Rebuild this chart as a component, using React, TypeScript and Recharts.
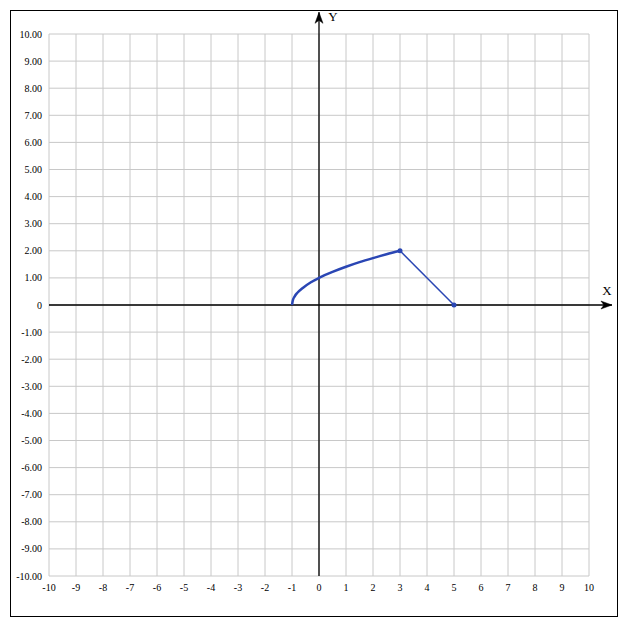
import React from "react";
import { LineChart, Line, XAxis, YAxis, CartesianGrid, ReferenceLine } from "recharts";

const xTicks = [-10, -9, -8, -7, -6, -5, -4, -3, -2, -1, 0, 1, 2, 3, 4, 5, 6, 7, 8, 9, 10];
const yTicks = [-10, -9, -8, -7, -6, -5, -4, -3, -2, -1, 0, 1, 2, 3, 4, 5, 6, 7, 8, 9, 10];

// curved part
const curveX = [-1, -0.97, -0.9, -0.8, -0.6, -0.3, 0, 0.5, 1, 1.5, 2, 2.5, 3];
const curveY = [0, 0.17, 0.32, 0.45, 0.63, 0.84, 1, 1.22, 1.41, 1.58, 1.73, 1.87, 2];
// straight part
const segX = [3, 5];
const segY = [2, 0];

const curveData = curveX.map((x, i) => ({ x, y: curveY[i] }));
const segData = segX.map((x, i) => ({ x, y: segY[i] }));

const BLUE = "#2a46b4";
const FONT = "'Liberation Serif', 'Times New Roman', serif";

const ArrowAxis = (label: string, dir: "up" | "right") => (props: any) => {
  const { x1, y1, x2, y2 } = props;
  let head = "";
  let tx = 0;
  let ty = 0;
  if (dir === "up") {
    head = `M${x2},${y2} L${x2 - 4},${y2 + 11} L${x2},${y2 + 8} L${x2 + 4},${y2 + 11} Z`;
    tx = x2 + 14;
    ty = y2 + 9;
  } else {
    head = `M${x2},${y2} L${x2 - 11},${y2 - 4} L${x2 - 8},${y2} L${x2 - 11},${y2 + 4} Z`;
    tx = x2 - 5;
    ty = y2 - 10;
  }
  return (
    <g>
      <line x1={x1} y1={y1} x2={x2} y2={y2} stroke="#000" strokeWidth={1.3} />
      <path d={head} fill="#000" stroke="#000" strokeWidth={0.5} />
      <text x={tx} y={ty} fontSize={13} fontFamily={FONT} fill="#000" textAnchor="middle">
        {label}
      </text>
    </g>
  );
};

const yFmt = (v: number) => (v === 0 ? "0" : v.toFixed(2));

const tickStyle = { fontSize: 10, fontFamily: FONT, fill: "#000" };

export default function App() {
  return (
    <div
      style={{
        position: "absolute",
        left: 0,
        top: 0,
        width: 627,
        height: 630,
        background: "#fff",
        fontFamily: FONT,
      }}
    >
      <div
        style={{
          position: "absolute",
          left: 10,
          top: 10,
          width: 608,
          height: 607,
          border: "1px solid #000",
          boxSizing: "border-box",
          pointerEvents: "none",
        }}
      />
      <LineChart
        width={627}
        height={630}
        margin={{ top: 34, right: 38, bottom: 34, left: 10 }}
        style={{ position: "absolute", left: 0, top: 0, fontFamily: FONT }}
      >
        <CartesianGrid stroke="#c8c8c8" strokeWidth={1} />
        <XAxis
          type="number"
          dataKey="x"
          domain={[-10, 10]}
          ticks={xTicks}
          interval={0}
          axisLine={false}
          tickLine={false}
          height={20}
          tick={tickStyle}
          style={{ fontFamily: FONT }}
          allowDataOverflow
        />
        <YAxis
          type="number"
          dataKey="y"
          domain={[-10, 10]}
          ticks={yTicks}
          interval={0}
          axisLine={false}
          tickLine={false}
          width={39}
          tickMargin={1}
          tickFormatter={yFmt}
          tick={tickStyle}
          style={{ fontFamily: FONT }}
          allowDataOverflow
        />
        <ReferenceLine
          segment={[{ x: -10, y: 0 }, { x: 10.85, y: 0 }]}
          ifOverflow="visible"
          shape={ArrowAxis("X", "right")}
        />
        <ReferenceLine
          segment={[{ x: 0, y: -10 }, { x: 0, y: 10.8 }]}
          ifOverflow="visible"
          shape={ArrowAxis("Y", "up")}
        />
        <Line
          data={curveData}
          dataKey="y"
          type="monotone"
          stroke={BLUE}
          strokeWidth={2.5}
          dot={false}
          isAnimationActive={false}
        />
        <Line
          data={segData}
          dataKey="y"
          type="linear"
          stroke={BLUE}
          strokeWidth={1.5}
          dot={{ r: 2.5, fill: BLUE, stroke: BLUE, strokeWidth: 0 }}
          isAnimationActive={false}
        />
      </LineChart>
    </div>
  );
}
